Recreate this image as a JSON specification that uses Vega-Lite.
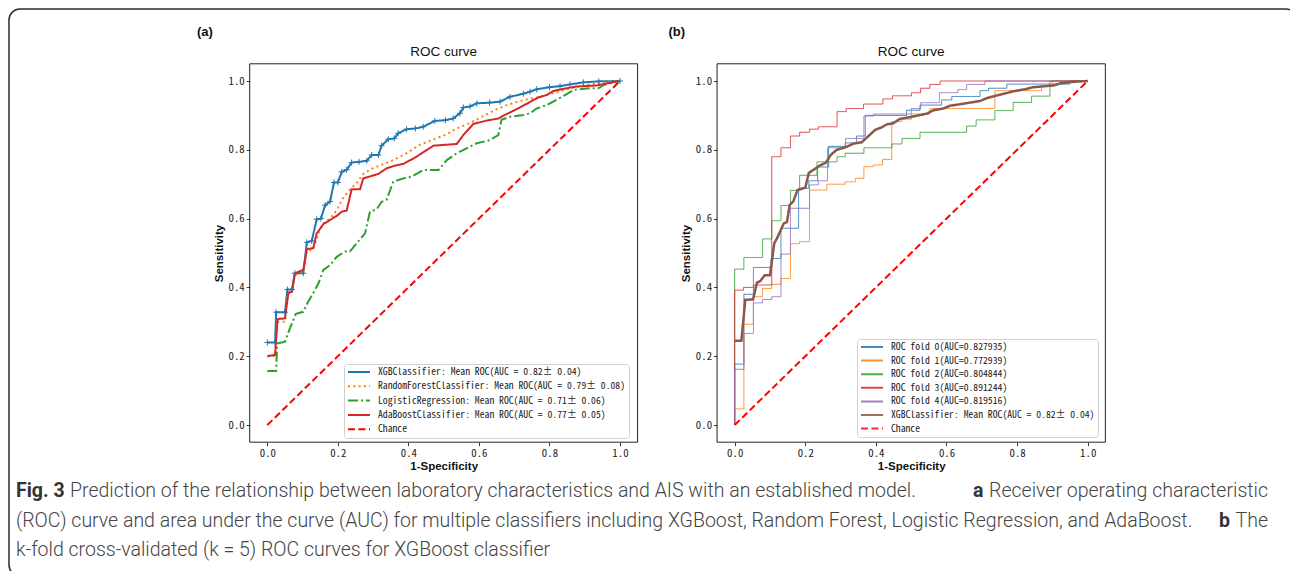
{
  "$schema": "https://vega.github.io/schema/vega-lite/v6.json",
  "width": 1288,
  "height": 567,
  "autosize": {"type": "none"},
  "padding": {"left": 9, "top": 9, "right": 0, "bottom": 0},
  "background": "white",
  "config": {
    "font": "Liberation Sans",
    "view": {"stroke": "#2b2b2b", "strokeWidth": 1.5, "cornerRadius": 11},
    "axis": {
      "labelFont": "Noto Sans Mono CJK SC",
      "labelFontSize": 10.8,
      "labelColor": "#222",
      "tickColor": "#222",
      "tickSize": 3.5,
      "tickWidth": 0.9,
      "domain": false,
      "grid": false,
      "labelPadding": 2,
      "titleFont": "Liberation Sans",
      "titleFontSize": 11.5,
      "titleFontWeight": "bold",
      "titleColor": "#111",
      "titlePadding": 2
    },
    "legend": {
      "labelFont": "Noto Sans Mono CJK SC",
      "labelFontSize": 9.7,
      "labelColor": "#1a1a1a",
      "labelLimit": 400,
      "symbolType": "stroke",
      "symbolSize": 484,
      "symbolStrokeWidth": 2,
      "fillColor": "rgba(255,255,255,0.85)",
      "strokeColor": "#d0d0d0",
      "cornerRadius": 3,
      "padding": 3,
      "clipHeight": 10,
      "rowPadding": 4.3,
      "labelOffset": 7
    }
  },
  "datasets": {
    "labelsA": [
      {"model": "XGB", "label": "XGBClassifier: Mean ROC(AUC = 0.82± 0.04)"},
      {"model": "RF", "label": "RandomForestClassifier: Mean ROC(AUC = 0.79± 0.08)"},
      {"model": "LR", "label": "LogisticRegression: Mean ROC(AUC = 0.71± 0.06)"},
      {"model": "Ada", "label": "AdaBoostClassifier: Mean ROC(AUC = 0.77± 0.05)"},
      {"model": "Chance", "label": "Chance"}
    ],
    "labelsB": [
      {"model": "f0", "label": "ROC fold 0(AUC=0.827935)"},
      {"model": "f1", "label": "ROC fold 1(AUC=0.772939)"},
      {"model": "f2", "label": "ROC fold 2(AUC=0.804844)"},
      {"model": "f3", "label": "ROC fold 3(AUC=0.891244)"},
      {"model": "f4", "label": "ROC fold 4(AUC=0.819516)"},
      {"model": "mean", "label": "XGBClassifier: Mean ROC(AUC = 0.82± 0.04)"},
      {"model": "Chance", "label": "Chance"}
    ],
    "caption": [
      {"line": 1, "part": "fig", "text": "Fig. 3"},
      {"line": 1, "part": "body1", "text": "Prediction of the relationship between laboratory characteristics and AIS with an established model."},
      {"line": 1, "part": "a", "text": "a"},
      {"line": 1, "part": "tail", "text": "Receiver operating characteristic"},
      {"line": 2, "part": "body", "text": "(ROC) curve and area under the curve (AUC) for multiple classifiers including XGBoost, Random Forest, Logistic Regression, and AdaBoost."},
      {"line": 2, "part": "b", "text": "b"},
      {"line": 2, "part": "tail", "text": "The"},
      {"line": 3, "part": "body", "text": "k-fold cross-validated (k = 5) ROC curves for XGBoost classifier"}
    ],
    "rocA": [
      {"model":"XGB","fpr":0,"tpr":0.24},{"model":"XGB","fpr":0.022,"tpr":0.24},{"model":"XGB","fpr":0.025,"tpr":0.328},{"model":"XGB","fpr":0.05,"tpr":0.328},{"model":"XGB","fpr":0.057,"tpr":0.394},{"model":"XGB","fpr":0.07,"tpr":0.394},{"model":"XGB","fpr":0.078,"tpr":0.441},{"model":"XGB","fpr":0.102,"tpr":0.441},{"model":"XGB","fpr":0.112,"tpr":0.531},{"model":"XGB","fpr":0.126,"tpr":0.535},{"model":"XGB","fpr":0.14,"tpr":0.598},{"model":"XGB","fpr":0.152,"tpr":0.6},{"model":"XGB","fpr":0.164,"tpr":0.639},{"model":"XGB","fpr":0.178,"tpr":0.65},{"model":"XGB","fpr":0.189,"tpr":0.705},{"model":"XGB","fpr":0.2,"tpr":0.705},{"model":"XGB","fpr":0.211,"tpr":0.736},{"model":"XGB","fpr":0.225,"tpr":0.742},{"model":"XGB","fpr":0.239,"tpr":0.763},{"model":"XGB","fpr":0.26,"tpr":0.765},{"model":"XGB","fpr":0.282,"tpr":0.768},{"model":"XGB","fpr":0.296,"tpr":0.785},{"model":"XGB","fpr":0.315,"tpr":0.785},{"model":"XGB","fpr":0.324,"tpr":0.812},{"model":"XGB","fpr":0.343,"tpr":0.831},{"model":"XGB","fpr":0.36,"tpr":0.833},{"model":"XGB","fpr":0.371,"tpr":0.848},{"model":"XGB","fpr":0.395,"tpr":0.86},{"model":"XGB","fpr":0.42,"tpr":0.862},{"model":"XGB","fpr":0.442,"tpr":0.867},{"model":"XGB","fpr":0.475,"tpr":0.884},{"model":"XGB","fpr":0.505,"tpr":0.886},{"model":"XGB","fpr":0.527,"tpr":0.891},{"model":"XGB","fpr":0.546,"tpr":0.906},{"model":"XGB","fpr":0.556,"tpr":0.923},{"model":"XGB","fpr":0.575,"tpr":0.926},{"model":"XGB","fpr":0.594,"tpr":0.935},{"model":"XGB","fpr":0.63,"tpr":0.937},{"model":"XGB","fpr":0.66,"tpr":0.94},{"model":"XGB","fpr":0.688,"tpr":0.954},{"model":"XGB","fpr":0.726,"tpr":0.963},{"model":"XGB","fpr":0.745,"tpr":0.969},{"model":"XGB","fpr":0.764,"tpr":0.976},{"model":"XGB","fpr":0.8,"tpr":0.982},{"model":"XGB","fpr":0.83,"tpr":0.985},{"model":"XGB","fpr":0.858,"tpr":0.99},{"model":"XGB","fpr":0.896,"tpr":0.996},{"model":"XGB","fpr":0.94,"tpr":0.999},{"model":"XGB","fpr":1,"tpr":1},
      {"model":"RF","fpr":0,"tpr":0.2},{"model":"RF","fpr":0.022,"tpr":0.2},{"model":"RF","fpr":0.028,"tpr":0.3},{"model":"RF","fpr":0.05,"tpr":0.3},{"model":"RF","fpr":0.057,"tpr":0.383},{"model":"RF","fpr":0.07,"tpr":0.39},{"model":"RF","fpr":0.078,"tpr":0.436},{"model":"RF","fpr":0.102,"tpr":0.445},{"model":"RF","fpr":0.112,"tpr":0.505},{"model":"RF","fpr":0.13,"tpr":0.51},{"model":"RF","fpr":0.145,"tpr":0.557},{"model":"RF","fpr":0.159,"tpr":0.586},{"model":"RF","fpr":0.178,"tpr":0.6},{"model":"RF","fpr":0.197,"tpr":0.625},{"model":"RF","fpr":0.211,"tpr":0.654},{"model":"RF","fpr":0.23,"tpr":0.68},{"model":"RF","fpr":0.253,"tpr":0.703},{"model":"RF","fpr":0.272,"tpr":0.73},{"model":"RF","fpr":0.296,"tpr":0.745},{"model":"RF","fpr":0.324,"tpr":0.756},{"model":"RF","fpr":0.357,"tpr":0.77},{"model":"RF","fpr":0.395,"tpr":0.79},{"model":"RF","fpr":0.433,"tpr":0.815},{"model":"RF","fpr":0.471,"tpr":0.83},{"model":"RF","fpr":0.509,"tpr":0.845},{"model":"RF","fpr":0.537,"tpr":0.862},{"model":"RF","fpr":0.575,"tpr":0.878},{"model":"RF","fpr":0.612,"tpr":0.898},{"model":"RF","fpr":0.65,"tpr":0.918},{"model":"RF","fpr":0.679,"tpr":0.93},{"model":"RF","fpr":0.716,"tpr":0.942},{"model":"RF","fpr":0.764,"tpr":0.952},{"model":"RF","fpr":0.8,"tpr":0.962},{"model":"RF","fpr":0.849,"tpr":0.976},{"model":"RF","fpr":0.896,"tpr":0.987},{"model":"RF","fpr":0.943,"tpr":0.995},{"model":"RF","fpr":1,"tpr":1},
      {"model":"LR","fpr":0,"tpr":0.157},{"model":"LR","fpr":0.025,"tpr":0.157},{"model":"LR","fpr":0.028,"tpr":0.237},{"model":"LR","fpr":0.05,"tpr":0.242},{"model":"LR","fpr":0.064,"tpr":0.281},{"model":"LR","fpr":0.081,"tpr":0.323},{"model":"LR","fpr":0.102,"tpr":0.329},{"model":"LR","fpr":0.116,"tpr":0.359},{"model":"LR","fpr":0.13,"tpr":0.383},{"model":"LR","fpr":0.145,"tpr":0.412},{"model":"LR","fpr":0.159,"tpr":0.451},{"model":"LR","fpr":0.178,"tpr":0.465},{"model":"LR","fpr":0.197,"tpr":0.489},{"model":"LR","fpr":0.22,"tpr":0.504},{"model":"LR","fpr":0.234,"tpr":0.504},{"model":"LR","fpr":0.253,"tpr":0.528},{"model":"LR","fpr":0.277,"tpr":0.557},{"model":"LR","fpr":0.291,"tpr":0.62},{"model":"LR","fpr":0.31,"tpr":0.627},{"model":"LR","fpr":0.324,"tpr":0.649},{"model":"LR","fpr":0.338,"tpr":0.654},{"model":"LR","fpr":0.357,"tpr":0.707},{"model":"LR","fpr":0.386,"tpr":0.717},{"model":"LR","fpr":0.409,"tpr":0.722},{"model":"LR","fpr":0.442,"tpr":0.741},{"model":"LR","fpr":0.485,"tpr":0.741},{"model":"LR","fpr":0.509,"tpr":0.77},{"model":"LR","fpr":0.537,"tpr":0.79},{"model":"LR","fpr":0.565,"tpr":0.804},{"model":"LR","fpr":0.594,"tpr":0.819},{"model":"LR","fpr":0.631,"tpr":0.828},{"model":"LR","fpr":0.655,"tpr":0.843},{"model":"LR","fpr":0.664,"tpr":0.887},{"model":"LR","fpr":0.688,"tpr":0.896},{"model":"LR","fpr":0.726,"tpr":0.901},{"model":"LR","fpr":0.745,"tpr":0.906},{"model":"LR","fpr":0.764,"tpr":0.92},{"model":"LR","fpr":0.792,"tpr":0.93},{"model":"LR","fpr":0.82,"tpr":0.945},{"model":"LR","fpr":0.844,"tpr":0.959},{"model":"LR","fpr":0.868,"tpr":0.974},{"model":"LR","fpr":0.915,"tpr":0.979},{"model":"LR","fpr":0.939,"tpr":0.979},{"model":"LR","fpr":0.953,"tpr":0.988},{"model":"LR","fpr":1,"tpr":1},
      {"model":"Ada","fpr":0,"tpr":0.2},{"model":"Ada","fpr":0.022,"tpr":0.204},{"model":"Ada","fpr":0.029,"tpr":0.308},{"model":"Ada","fpr":0.05,"tpr":0.31},{"model":"Ada","fpr":0.06,"tpr":0.385},{"model":"Ada","fpr":0.07,"tpr":0.387},{"model":"Ada","fpr":0.078,"tpr":0.441},{"model":"Ada","fpr":0.102,"tpr":0.451},{"model":"Ada","fpr":0.112,"tpr":0.511},{"model":"Ada","fpr":0.13,"tpr":0.514},{"model":"Ada","fpr":0.14,"tpr":0.557},{"model":"Ada","fpr":0.159,"tpr":0.584},{"model":"Ada","fpr":0.178,"tpr":0.596},{"model":"Ada","fpr":0.197,"tpr":0.608},{"model":"Ada","fpr":0.211,"tpr":0.62},{"model":"Ada","fpr":0.225,"tpr":0.623},{"model":"Ada","fpr":0.239,"tpr":0.685},{"model":"Ada","fpr":0.263,"tpr":0.685},{"model":"Ada","fpr":0.272,"tpr":0.717},{"model":"Ada","fpr":0.296,"tpr":0.724},{"model":"Ada","fpr":0.315,"tpr":0.73},{"model":"Ada","fpr":0.338,"tpr":0.746},{"model":"Ada","fpr":0.362,"tpr":0.754},{"model":"Ada","fpr":0.386,"tpr":0.759},{"model":"Ada","fpr":0.423,"tpr":0.78},{"model":"Ada","fpr":0.471,"tpr":0.812},{"model":"Ada","fpr":0.537,"tpr":0.817},{"model":"Ada","fpr":0.556,"tpr":0.843},{"model":"Ada","fpr":0.584,"tpr":0.875},{"model":"Ada","fpr":0.622,"tpr":0.885},{"model":"Ada","fpr":0.655,"tpr":0.891},{"model":"Ada","fpr":0.669,"tpr":0.899},{"model":"Ada","fpr":0.693,"tpr":0.911},{"model":"Ada","fpr":0.716,"tpr":0.923},{"model":"Ada","fpr":0.745,"tpr":0.939},{"model":"Ada","fpr":0.768,"tpr":0.952},{"model":"Ada","fpr":0.792,"tpr":0.959},{"model":"Ada","fpr":0.811,"tpr":0.971},{"model":"Ada","fpr":0.844,"tpr":0.978},{"model":"Ada","fpr":0.877,"tpr":0.984},{"model":"Ada","fpr":0.934,"tpr":0.987},{"model":"Ada","fpr":0.962,"tpr":0.993},{"model":"Ada","fpr":1,"tpr":1},
      {"model":"Chance","fpr":0,"tpr":0},{"model":"Chance","fpr":1,"tpr":1}
    ],
    "rocB": [
      {"model":"f0","fpr":0,"tpr":0},{"model":"f0","fpr":0,"tpr":0.177},{"model":"f0","fpr":0.026,"tpr":0.38},{"model":"f0","fpr":0.053,"tpr":0.458},{"model":"f0","fpr":0.103,"tpr":0.484},{"model":"f0","fpr":0.131,"tpr":0.572},{"model":"f0","fpr":0.181,"tpr":0.688},{"model":"f0","fpr":0.21,"tpr":0.71},{"model":"f0","fpr":0.235,"tpr":0.75},{"model":"f0","fpr":0.266,"tpr":0.81},{"model":"f0","fpr":0.313,"tpr":0.82},{"model":"f0","fpr":0.345,"tpr":0.84},{"model":"f0","fpr":0.37,"tpr":0.9},{"model":"f0","fpr":0.487,"tpr":0.915},{"model":"f0","fpr":0.525,"tpr":0.93},{"model":"f0","fpr":0.586,"tpr":0.945},{"model":"f0","fpr":0.615,"tpr":0.955},{"model":"f0","fpr":0.695,"tpr":0.972},{"model":"f0","fpr":0.719,"tpr":0.979},{"model":"f0","fpr":0.771,"tpr":0.991},{"model":"f0","fpr":0.95,"tpr":1},{"model":"f0","fpr":1,"tpr":1},
      {"model":"f1","fpr":0,"tpr":0},{"model":"f1","fpr":0,"tpr":0.047},{"model":"f1","fpr":0.026,"tpr":0.293},{"model":"f1","fpr":0.053,"tpr":0.373},{"model":"f1","fpr":0.079,"tpr":0.397},{"model":"f1","fpr":0.105,"tpr":0.409},{"model":"f1","fpr":0.131,"tpr":0.426},{"model":"f1","fpr":0.158,"tpr":0.527},{"model":"f1","fpr":0.184,"tpr":0.533},{"model":"f1","fpr":0.212,"tpr":0.683},{"model":"f1","fpr":0.261,"tpr":0.7},{"model":"f1","fpr":0.313,"tpr":0.707},{"model":"f1","fpr":0.342,"tpr":0.717},{"model":"f1","fpr":0.366,"tpr":0.751},{"model":"f1","fpr":0.393,"tpr":0.756},{"model":"f1","fpr":0.419,"tpr":0.772},{"model":"f1","fpr":0.445,"tpr":0.882},{"model":"f1","fpr":0.473,"tpr":0.889},{"model":"f1","fpr":0.501,"tpr":0.904},{"model":"f1","fpr":0.553,"tpr":0.92},{"model":"f1","fpr":0.737,"tpr":0.972},{"model":"f1","fpr":0.869,"tpr":0.986},{"model":"f1","fpr":0.9,"tpr":1},{"model":"f1","fpr":1,"tpr":1},
      {"model":"f2","fpr":0,"tpr":0},{"model":"f2","fpr":0,"tpr":0.453},{"model":"f2","fpr":0.026,"tpr":0.487},{"model":"f2","fpr":0.079,"tpr":0.541},{"model":"f2","fpr":0.105,"tpr":0.594},{"model":"f2","fpr":0.131,"tpr":0.638},{"model":"f2","fpr":0.158,"tpr":0.682},{"model":"f2","fpr":0.184,"tpr":0.726},{"model":"f2","fpr":0.233,"tpr":0.765},{"model":"f2","fpr":0.29,"tpr":0.78},{"model":"f2","fpr":0.313,"tpr":0.79},{"model":"f2","fpr":0.366,"tpr":0.806},{"model":"f2","fpr":0.445,"tpr":0.817},{"model":"f2","fpr":0.474,"tpr":0.833},{"model":"f2","fpr":0.525,"tpr":0.851},{"model":"f2","fpr":0.657,"tpr":0.869},{"model":"f2","fpr":0.684,"tpr":0.887},{"model":"f2","fpr":0.737,"tpr":0.914},{"model":"f2","fpr":0.789,"tpr":0.938},{"model":"f2","fpr":0.841,"tpr":0.956},{"model":"f2","fpr":0.893,"tpr":1},{"model":"f2","fpr":1,"tpr":1},
      {"model":"f3","fpr":0,"tpr":0},{"model":"f3","fpr":0,"tpr":0.392},{"model":"f3","fpr":0.025,"tpr":0.4},{"model":"f3","fpr":0.053,"tpr":0.407},{"model":"f3","fpr":0.105,"tpr":0.78},{"model":"f3","fpr":0.131,"tpr":0.806},{"model":"f3","fpr":0.158,"tpr":0.84},{"model":"f3","fpr":0.184,"tpr":0.851},{"model":"f3","fpr":0.212,"tpr":0.86},{"model":"f3","fpr":0.237,"tpr":0.867},{"model":"f3","fpr":0.29,"tpr":0.911},{"model":"f3","fpr":0.316,"tpr":0.92},{"model":"f3","fpr":0.365,"tpr":0.933},{"model":"f3","fpr":0.42,"tpr":0.948},{"model":"f3","fpr":0.447,"tpr":0.957},{"model":"f3","fpr":0.501,"tpr":0.966},{"model":"f3","fpr":0.527,"tpr":0.979},{"model":"f3","fpr":0.553,"tpr":0.99},{"model":"f3","fpr":0.582,"tpr":1},{"model":"f3","fpr":1,"tpr":1},
      {"model":"f4","fpr":0,"tpr":0},{"model":"f4","fpr":0,"tpr":0.162},{"model":"f4","fpr":0.026,"tpr":0.266},{"model":"f4","fpr":0.053,"tpr":0.355},{"model":"f4","fpr":0.079,"tpr":0.365},{"model":"f4","fpr":0.105,"tpr":0.373},{"model":"f4","fpr":0.131,"tpr":0.497},{"model":"f4","fpr":0.158,"tpr":0.63},{"model":"f4","fpr":0.212,"tpr":0.698},{"model":"f4","fpr":0.237,"tpr":0.71},{"model":"f4","fpr":0.263,"tpr":0.806},{"model":"f4","fpr":0.314,"tpr":0.833},{"model":"f4","fpr":0.366,"tpr":0.898},{"model":"f4","fpr":0.393,"tpr":0.904},{"model":"f4","fpr":0.5,"tpr":0.92},{"model":"f4","fpr":0.527,"tpr":0.937},{"model":"f4","fpr":0.58,"tpr":0.966},{"model":"f4","fpr":0.632,"tpr":0.975},{"model":"f4","fpr":0.657,"tpr":0.99},{"model":"f4","fpr":0.709,"tpr":1},{"model":"f4","fpr":1,"tpr":1},
      {"model":"mean","fpr":0,"tpr":0.245},{"model":"mean","fpr":0.019,"tpr":0.245},{"model":"mean","fpr":0.03,"tpr":0.364},{"model":"mean","fpr":0.052,"tpr":0.365},{"model":"mean","fpr":0.063,"tpr":0.414},{"model":"mean","fpr":0.072,"tpr":0.418},{"model":"mean","fpr":0.085,"tpr":0.435},{"model":"mean","fpr":0.1,"tpr":0.435},{"model":"mean","fpr":0.112,"tpr":0.528},{"model":"mean","fpr":0.12,"tpr":0.543},{"model":"mean","fpr":0.139,"tpr":0.586},{"model":"mean","fpr":0.148,"tpr":0.59},{"model":"mean","fpr":0.156,"tpr":0.64},{"model":"mean","fpr":0.166,"tpr":0.65},{"model":"mean","fpr":0.178,"tpr":0.683},{"model":"mean","fpr":0.2,"tpr":0.69},{"model":"mean","fpr":0.21,"tpr":0.733},{"model":"mean","fpr":0.228,"tpr":0.745},{"model":"mean","fpr":0.242,"tpr":0.755},{"model":"mean","fpr":0.258,"tpr":0.762},{"model":"mean","fpr":0.272,"tpr":0.785},{"model":"mean","fpr":0.289,"tpr":0.8},{"model":"mean","fpr":0.313,"tpr":0.807},{"model":"mean","fpr":0.337,"tpr":0.818},{"model":"mean","fpr":0.36,"tpr":0.822},{"model":"mean","fpr":0.379,"tpr":0.84},{"model":"mean","fpr":0.398,"tpr":0.858},{"model":"mean","fpr":0.416,"tpr":0.865},{"model":"mean","fpr":0.431,"tpr":0.874},{"model":"mean","fpr":0.449,"tpr":0.877},{"model":"mean","fpr":0.468,"tpr":0.89},{"model":"mean","fpr":0.497,"tpr":0.895},{"model":"mean","fpr":0.52,"tpr":0.9},{"model":"mean","fpr":0.544,"tpr":0.905},{"model":"mean","fpr":0.563,"tpr":0.915},{"model":"mean","fpr":0.591,"tpr":0.92},{"model":"mean","fpr":0.61,"tpr":0.928},{"model":"mean","fpr":0.648,"tpr":0.934},{"model":"mean","fpr":0.695,"tpr":0.942},{"model":"mean","fpr":0.714,"tpr":0.95},{"model":"mean","fpr":0.742,"tpr":0.958},{"model":"mean","fpr":0.771,"tpr":0.965},{"model":"mean","fpr":0.789,"tpr":0.97},{"model":"mean","fpr":0.827,"tpr":0.977},{"model":"mean","fpr":0.846,"tpr":0.982},{"model":"mean","fpr":0.903,"tpr":0.987},{"model":"mean","fpr":0.922,"tpr":0.993},{"model":"mean","fpr":0.95,"tpr":0.997},{"model":"mean","fpr":1,"tpr":1},
      {"model":"Chance","fpr":0,"tpr":0},{"model":"Chance","fpr":1,"tpr":1}
    ]
  },
  "layer": [
    {
      "data": {"name": "rocA"},
      "transform": [{"lookup": "model", "from": {"data": {"name": "labelsA"}, "key": "model", "fields": ["label"]}}],
      "layer": [
        {
          "transform": [{"filter": "datum.model != 'Chance'"}],
          "mark": {"type": "line", "strokeWidth": 2},
          "encoding": {
            "x": {"field": "fpr", "type": "quantitative",
              "scale": {"domain": [-0.05, 1.05], "range": [240.7, 628.6], "nice": false, "zero": false},
              "axis": {"orient": "bottom", "offset": -133.8, "values": [0, 0.2, 0.4, 0.6, 0.8, 1], "format": ".1f", "title": "1-Specificity"}},
            "y": {"field": "tpr", "type": "quantitative",
              "scale": {"domain": [-0.05, 1.05], "range": [433.2, 54.8], "nice": false, "zero": false},
              "axis": {"orient": "left", "offset": -240.7, "values": [0, 0.2, 0.4, 0.6, 0.8, 1], "format": ".1f", "title": "Sensitivity", "titlePadding": 4}},
            "color": {"field": "label", "type": "nominal",
              "scale": {"domain": ["XGBClassifier: Mean ROC(AUC = 0.82± 0.04)", "RandomForestClassifier: Mean ROC(AUC = 0.79± 0.08)", "LogisticRegression: Mean ROC(AUC = 0.71± 0.06)", "AdaBoostClassifier: Mean ROC(AUC = 0.77± 0.05)", "Chance"],
                        "range": ["#1f77b4", "#ff7f0e", "#2ca02c", "#d62728", "#ff0000"]},
              "legend": {"orient": "none", "legendX": 335, "legendY": 355, "title": null}},
            "strokeDash": {"field": "label", "type": "nominal",
              "scale": {"domain": ["XGBClassifier: Mean ROC(AUC = 0.82± 0.04)", "RandomForestClassifier: Mean ROC(AUC = 0.79± 0.08)", "LogisticRegression: Mean ROC(AUC = 0.71± 0.06)", "AdaBoostClassifier: Mean ROC(AUC = 0.77± 0.05)", "Chance"],
                        "range": [[1, 0], [2, 3.3], [10, 3, 2, 3], [1, 0], [7, 3.5]]},
              "legend": {"orient": "none", "legendX": 335, "legendY": 355, "title": null}}
          }
        },
        {
          "transform": [{"filter": "datum.model == 'XGB'"}],
          "mark": {"type": "point", "shape": "M-1,0L1,0M0,-1L0,1", "size": 36, "filled": false, "strokeWidth": 1, "color": "#1f77b4", "opacity": 1},
          "encoding": {
            "x": {"field": "fpr", "type": "quantitative"},
            "y": {"field": "tpr", "type": "quantitative"}
          }
        },
        {
          "transform": [{"filter": "datum.model == 'Chance'"}],
          "mark": {"type": "line", "strokeWidth": 2},
          "encoding": {
            "x": {"field": "fpr", "type": "quantitative"},
            "y": {"field": "tpr", "type": "quantitative"},
            "color": {"field": "label", "type": "nominal"},
            "strokeDash": {"field": "label", "type": "nominal"}
          }
        },
        {
          "data": {"values": [{"name": "frame"}]},
          "mark": {"type": "rect", "fill": "transparent", "stroke": "#222", "strokeWidth": 1},
          "encoding": {
            "x": {"datum": -0.05, "type": "quantitative"},
            "x2": {"datum": 1.05},
            "y": {"datum": -0.05, "type": "quantitative"},
            "y2": {"datum": 1.05}
          }
        },
        {
          "data": {"values": [{"title": "ROC curve", "tag": "(a)"}]},
          "layer": [
            {
              "mark": {"type": "text", "font": "Liberation Sans", "fontSize": 13.5, "baseline": "middle", "align": "center", "color": "#111"},
              "encoding": {
                "x": {"datum": 0.5, "type": "quantitative"},
                "y": {"datum": 1.084, "type": "quantitative"},
                "text": {"field": "title"}
              }
            },
            {
              "mark": {"type": "text", "font": "Liberation Sans", "fontSize": 13, "fontWeight": "bold", "baseline": "middle", "align": "center", "color": "#111"},
              "encoding": {
                "x": {"datum": -0.177, "type": "quantitative"},
                "y": {"datum": 1.142, "type": "quantitative"},
                "text": {"field": "tag"}
              }
            }
          ]
        }
      ]
    },
    {
      "data": {"name": "rocB"},
      "transform": [{"lookup": "model", "from": {"data": {"name": "labelsB"}, "key": "model", "fields": ["label"]}}],
      "layer": [
        {
          "transform": [{"filter": "datum.model != 'Chance' && datum.model != 'mean'"}],
          "mark": {"type": "line", "strokeWidth": 1, "interpolate": "step-after", "opacity": 0.85},
          "encoding": {
            "x": {"field": "fpr", "type": "quantitative",
              "scale": {"domain": [-0.05, 1.05], "range": [708.05, 1096.35], "nice": false, "zero": false},
              "axis": {"orient": "bottom", "offset": -133.8, "values": [0, 0.2, 0.4, 0.6, 0.8, 1], "format": ".1f", "title": "1-Specificity"}},
            "y": {"field": "tpr", "type": "quantitative",
              "scale": {"domain": [-0.05, 1.05], "range": [433.2, 54.8], "nice": false, "zero": false},
              "axis": {"orient": "left", "offset": -708.05, "values": [0, 0.2, 0.4, 0.6, 0.8, 1], "format": ".1f", "title": "Sensitivity", "titlePadding": 4}},
            "color": {"field": "label", "type": "nominal",
              "scale": {"domain": ["ROC fold 0(AUC=0.827935)", "ROC fold 1(AUC=0.772939)", "ROC fold 2(AUC=0.804844)", "ROC fold 3(AUC=0.891244)", "ROC fold 4(AUC=0.819516)", "XGBClassifier: Mean ROC(AUC = 0.82± 0.04)", "Chance"],
                        "range": ["#1f77b4", "#ff7f0e", "#2ca02c", "#d62728", "#9467bd", "#8c564b", "#ff0000"]},
              "legend": {"orient": "none", "legendX": 848, "legendY": 330, "title": null, "rowPadding": 3.6}},
            "strokeDash": {"field": "label", "type": "nominal",
              "scale": {"domain": ["ROC fold 0(AUC=0.827935)", "ROC fold 1(AUC=0.772939)", "ROC fold 2(AUC=0.804844)", "ROC fold 3(AUC=0.891244)", "ROC fold 4(AUC=0.819516)", "XGBClassifier: Mean ROC(AUC = 0.82± 0.04)", "Chance"],
                        "range": [[1, 0], [1, 0], [1, 0], [1, 0], [1, 0], [1, 0], [7, 3.5]]},
              "legend": {"orient": "none", "legendX": 848, "legendY": 330, "title": null, "rowPadding": 3.6}}
          }
        },
        {
          "transform": [{"filter": "datum.model == 'mean'"}],
          "mark": {"type": "line", "strokeWidth": 2.5},
          "encoding": {
            "x": {"field": "fpr", "type": "quantitative"},
            "y": {"field": "tpr", "type": "quantitative"},
            "color": {"field": "label", "type": "nominal"},
            "strokeDash": {"field": "label", "type": "nominal"}
          }
        },
        {
          "transform": [{"filter": "datum.model == 'Chance'"}],
          "mark": {"type": "line", "strokeWidth": 2},
          "encoding": {
            "x": {"field": "fpr", "type": "quantitative"},
            "y": {"field": "tpr", "type": "quantitative"},
            "color": {"field": "label", "type": "nominal"},
            "strokeDash": {"field": "label", "type": "nominal"}
          }
        },
        {
          "data": {"values": [{"name": "frame"}]},
          "mark": {"type": "rect", "fill": "transparent", "stroke": "#222", "strokeWidth": 1},
          "encoding": {
            "x": {"datum": -0.05, "type": "quantitative"},
            "x2": {"datum": 1.05},
            "y": {"datum": -0.05, "type": "quantitative"},
            "y2": {"datum": 1.05}
          }
        },
        {
          "data": {"values": [{"title": "ROC curve", "tag": "(b)"}]},
          "layer": [
            {
              "mark": {"type": "text", "font": "Liberation Sans", "fontSize": 13.5, "baseline": "middle", "align": "center", "color": "#111"},
              "encoding": {
                "x": {"datum": 0.5, "type": "quantitative"},
                "y": {"datum": 1.084, "type": "quantitative"},
                "text": {"field": "title"}
              }
            },
            {
              "mark": {"type": "text", "font": "Liberation Sans", "fontSize": 13, "fontWeight": "bold", "baseline": "middle", "align": "center", "color": "#111"},
              "encoding": {
                "x": {"datum": -0.164, "type": "quantitative"},
                "y": {"datum": 1.142, "type": "quantitative"},
                "text": {"field": "tag"}
              }
            }
          ]
        }
      ]
    },
    {
      "data": {"name": "caption"},
      "encoding": {
        "x": {"datum": 0, "type": "quantitative", "scale": {"domain": [0, 1], "range": [7, 1281]}, "axis": null},
        "y": {"field": "line", "type": "ordinal", "scale": {"type": "point", "domain": [1, 2, 3], "range": [488, 547], "padding": 0}, "axis": null},
        "text": {"field": "text"}
      },
      "layer": [
        {"transform": [{"filter": "datum.part == 'fig'"}], "mark": {"type": "text", "align": "left", "baseline": "alphabetic", "font": "Roboto", "fontSize": 19.5, "fontWeight": "bold", "color": "#333"}},
        {"transform": [{"filter": "datum.part == 'body1'"}], "mark": {"type": "text", "align": "left", "baseline": "alphabetic", "font": "Roboto", "fontSize": 19.5, "fontWeight": 300, "color": "#444", "dx": 54}},
        {"transform": [{"filter": "datum.part == 'a'"}], "mark": {"type": "text", "align": "left", "baseline": "alphabetic", "font": "Roboto", "fontSize": 19.5, "fontWeight": "bold", "color": "#333", "dx": 957}},
        {"transform": [{"filter": "datum.part == 'tail'"}], "mark": {"type": "text", "align": "right", "baseline": "alphabetic", "font": "Roboto", "fontSize": 19.5, "fontWeight": 300, "color": "#444", "dx": 1252}},
        {"transform": [{"filter": "datum.part == 'body'"}], "mark": {"type": "text", "align": "left", "baseline": "alphabetic", "font": "Roboto", "fontSize": 19.5, "fontWeight": 300, "color": "#444"}},
        {"transform": [{"filter": "datum.part == 'b'"}], "mark": {"type": "text", "align": "left", "baseline": "alphabetic", "font": "Roboto", "fontSize": 19.5, "fontWeight": "bold", "color": "#333", "dx": 1203}}
      ]
    }
  ],
  "resolve": {
    "scale": {"x": "independent", "y": "independent", "color": "independent", "strokeDash": "independent"},
    "axis": {"x": "independent", "y": "independent"},
    "legend": {"color": "independent", "strokeDash": "independent"}
  }
}
